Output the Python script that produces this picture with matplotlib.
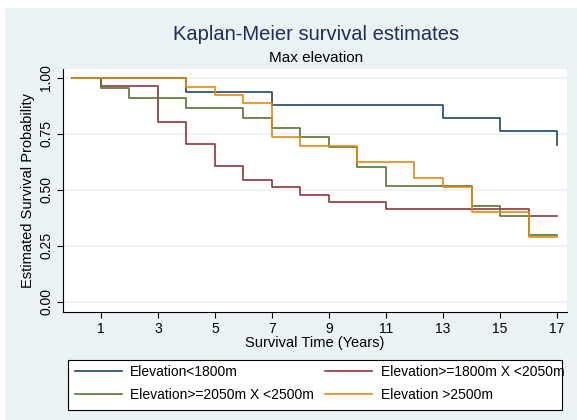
import numpy as np
import matplotlib.pyplot as plt
from matplotlib.patches import Rectangle

plt.rcParams['font.family'] = ['Liberation Sans', 'DejaVu Sans']

# Kaplan-Meier step data (time in years, survival)
t_lt1800 = [0, 4, 7, 13, 15, 17]
s_lt1800 = [1.0, 0.939, 0.879, 0.82, 0.763, 0.70]

t_1800_2050 = [0, 1, 3, 4, 5, 6, 7, 8, 9, 11, 16, 17]
s_1800_2050 = [1.0, 0.966, 0.804, 0.705, 0.609, 0.545, 0.512, 0.478, 0.448, 0.415, 0.384, 0.384]

t_2050_2500 = [0, 1, 2, 4, 6, 7, 8, 9, 10, 11, 14, 15, 16, 17]
s_2050_2500 = [1.0, 0.954, 0.909, 0.865, 0.823, 0.778, 0.735, 0.69, 0.604, 0.518, 0.43, 0.385, 0.299, 0.299]

t_gt2500 = [0, 4, 5, 6, 7, 8, 10, 12, 13, 14, 16, 17]
s_gt2500 = [1.0, 0.961, 0.924, 0.887, 0.738, 0.698, 0.626, 0.552, 0.515, 0.403, 0.292, 0.292]

labels = ["Elevation<1800m", "Elevation>=1800m X <2050m",
          "Elevation>=2050m X <2500m", "Elevation >2500m"]
colors = ["#1A476F", "#90353B", "#55752F", "#E8870E"]

xticks = [1, 3, 5, 7, 9, 11, 13, 15, 17]
yticks = [0, 0.25, 0.5, 0.75, 1.0]

bg = "#EAF2F3"
fig = plt.figure(figsize=(5.77, 4.2), dpi=100)
fig.patch.set_facecolor(bg)
# white strips at top and left edge like the screenshot
fig.patches.append(Rectangle((0, 1 - 8/420), 1, 8/420, transform=fig.transFigure,
                             facecolor="white", edgecolor="none", zorder=0))
fig.patches.append(Rectangle((0, 0), 5/577, 1, transform=fig.transFigure,
                             facecolor="white", edgecolor="none", zorder=0))

ax = fig.add_axes([63/577, 108/420, 504/577, 243/420])
ax.set_facecolor("white")

series = [(t_lt1800, s_lt1800), (t_1800_2050, s_1800_2050),
          (t_2050_2500, s_2050_2500), (t_gt2500, s_gt2500)]
handles = []
for (t, s), c, lab in zip(series, colors, labels):
    h, = ax.step(t, s, where="post", color=c, lw=1.2, label=lab)
    handles.append(h)

ax.set_xlim(-0.33, 17.35)
ax.set_ylim(-0.045, 1.04)
ax.set_xticks(xticks)
ax.set_yticks(yticks)
ax.set_yticklabels(["%.2f" % v for v in yticks], rotation=90, va="center")
ax.tick_params(labelsize=10, direction="out", length=4, color="black", pad=3)
ax.grid(axis="y", color=bg, lw=1.2)
ax.set_axisbelow(True)
for side in ["top", "right"]:
    ax.spines[side].set_visible(False)
for side in ["left", "bottom"]:
    ax.spines[side].set_color("black")

ax.set_xlabel("Survival Time (Years)", fontsize=10.5, labelpad=0)
ax.set_ylabel("Estimated Survival Probability", fontsize=10.5, labelpad=3)

fig.text(316/577, 1 - 34/420, "Kaplan-Meier survival estimates", ha="center",
         va="center", fontsize=14.5, color="#1E2D5A")
fig.text(316/577, 1 - 58/420, "Max elevation", ha="center", va="center",
         fontsize=11, color="black")

# legend box drawn separately: the text runs past its right edge in the original
fig.patches.append(Rectangle((68/577, 10/420), 494/577, 50/420, transform=fig.transFigure,
                             facecolor="white", edgecolor="black", lw=0.8, zorder=1))

# row-wise order as in the Stata legend
order = [0, 2, 1, 3]
leg = fig.legend([handles[i] for i in order], [labels[i] for i in order], ncol=2,
                 loc="upper left", bbox_to_anchor=(75/577, 1 - 365/420),
                 fontsize=10, frameon=False, borderpad=0, borderaxespad=0,
                 handlelength=3.4, handletextpad=0.58,
                 labelspacing=0.62, columnspacing=0.8)
leg.set_zorder(2)

fig.savefig("out.png", dpi=100, facecolor=fig.get_facecolor())
